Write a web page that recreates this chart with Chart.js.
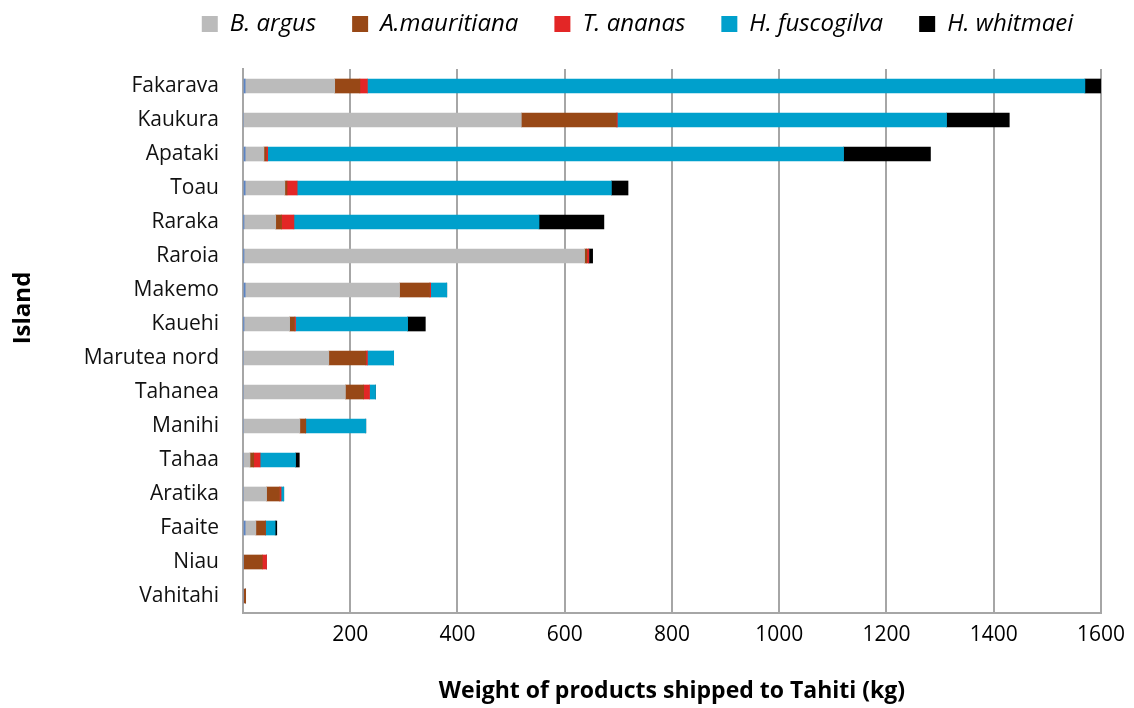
<!DOCTYPE html>
<html>
<head>
<meta charset="utf-8">
<script src="https://cdn.jsdelivr.net/npm/chart.js@4/dist/chart.umd.min.js"></script>
<style>
  body { margin: 0; background: #fff; }
  canvas { display: block; }
</style>
</head>
<body>
<canvas id="myChart" width="1134" height="708"></canvas>
<script>
const islas = ["Fakarava", "Kaukura", "Apataki", "Toau", "Raraka", "Raroia", "Makemo", "Kauehi",
  "Marutea nord", "Tahanea", "Manihi", "Tahaa", "Aratika", "Faaite", "Niau", "Vahitahi"];

// thin unlabelled sliver at the start of some bars
const otros = [4, 0, 4, 4, 1, 1, 4, 1, 0, 0, 0, 0, 0, 4, 0, 0];
const bArgus = [167, 519, 35, 74, 60, 636, 288, 86, 160, 191, 106, 13, 44, 20, 0, 0];
const aMauritiana = [47, 177, 4, 4, 11, 4, 56, 9, 69, 34, 11, 7, 24, 18, 36, 5];
const tAnanas = [14, 2, 3, 19, 23, 4, 2, 2, 3, 11, 0, 12, 3, 0, 8, 0];
const hFuscogilva = [1338, 614, 1074, 586, 457, 0, 30, 209, 49, 11, 112, 66, 5, 18, 0, 0];
const hWhitmaei = [30, 117, 162, 31, 121, 7, 0, 33, 0, 0, 0, 7, 0, 3, 0, 0];

const ticksX = [0, 200, 400, 600, 800, 1000, 1200, 1400, 1600];

const fuente = "'Open Sans', 'Noto Sans', sans-serif";
const gris = "#a6a6a6";

// moves the legend and fixes its height
const ajusteLeyenda = {
  id: "ajusteLeyenda",
  beforeLayout(chart) {
    const lg = chart.legend;
    if (!lg || lg._parchado) return;
    const fitOrig = lg.fit;
    lg.fit = function () {
      fitOrig.call(this);
      this.height = 69;
    };
    const drawOrig = lg.draw;
    lg.draw = function () {
      const c = this.ctx;
      c.save();
      c.translate(86, -24);
      drawOrig.call(this);
      c.restore();
    };
    lg._parchado = true;
  }
};

// y title drawn by hand so it sits where the original has it
const tituloY = {
  id: "tituloY",
  afterDraw(chart) {
    const c = chart.ctx;
    c.save();
    c.translate(23, 308);
    c.rotate(-Math.PI / 2);
    c.font = "bold 24px " + fuente;
    c.fillStyle = "#000";
    c.textAlign = "center";
    c.textBaseline = "middle";
    c.fillText("Island", 0, 0);
    c.restore();
  }
};

function serie(label, data, color, hidden) {
  return {
    label: label,
    data: data,
    backgroundColor: color,
    borderWidth: 0,
    barThickness: 14,
    enLeyenda: !hidden
  };
}

const ctx = document.getElementById("myChart");
const myChart = new Chart(ctx, {
  type: "bar",
  data: {
    labels: islas,
    datasets: [
      serie("", otros, "#5b84c4", true),
      serie("B. argus", bArgus, "#bbbbbb"),
      serie("A.mauritiana", aMauritiana, "#984816"),
      serie("T. ananas", tAnanas, "#e32626"),
      serie("H. fuscogilva", hFuscogilva, "#00a0cc"),
      serie("H. whitmaei", hWhitmaei, "#000000")
    ]
  },
  plugins: [ajusteLeyenda, tituloY],
  options: {
    indexAxis: "y",
    responsive: false,
    animation: false,
    devicePixelRatio: 1,
    layout: { padding: { left: 0, right: 31, top: 0, bottom: 0 } },
    plugins: {
      tooltip: { enabled: false },
      legend: {
        position: "top",
        labels: {
          boxWidth: 16,
          boxHeight: 16,
          padding: 36,
          color: "#000",
          font: { family: fuente, size: 24, style: "italic" },
          filter: (item, data) => data.datasets[item.datasetIndex].enLeyenda
        }
      }
    },
    scales: {
      x: {
        type: "linear",
        stacked: true,
        min: 0,
        max: 1600,
        afterBuildTicks: s => { s.ticks = ticksX.map(v => ({ value: v })); },
        afterFit: s => { s.height = 95; },
        ticks: {
          padding: 9,
          color: "#000",
          font: { family: fuente, size: 21 },
          callback: v => (v === 0 ? "" : v)
        },
        grid: { color: gris, lineWidth: 2, drawTicks: false },
        border: { display: true, color: gris, width: 2 },
        title: {
          display: true,
          text: "Weight of products shipped to Tahiti (kg)",
          color: "#000",
          font: { family: fuente, size: 23, weight: "bold" },
          padding: { top: 0, bottom: 3 }
        }
      },
      y: {
        stacked: true,
        afterFit: s => { s.width = 243; },
        ticks: {
          padding: 24,
          color: "#111",
          font: { family: fuente, size: 21 }
        },
        grid: { display: false, drawTicks: false },
        border: { display: true, color: gris, width: 2 }
      }
    }
  }
});
</script>
</body>
</html>
